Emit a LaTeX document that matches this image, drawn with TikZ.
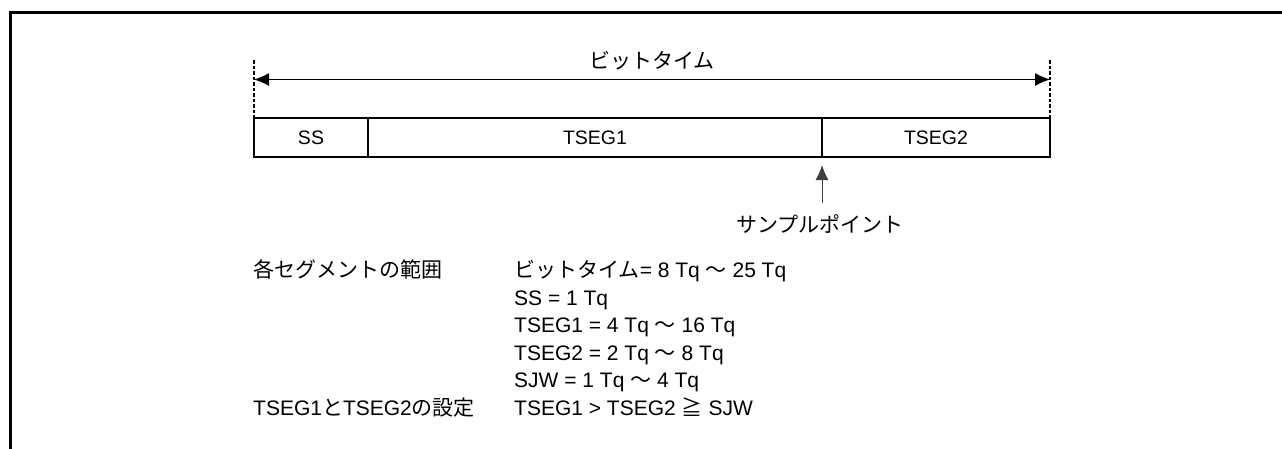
\documentclass[tikz,border=0pt]{standalone}
\usepackage{fontspec}
\setmainfont{Liberation Sans}
\newfontfamily\jp{Noto Sans CJK JP}
\usepackage{tikz}
\usetikzlibrary{shapes,arrows.meta,positioning,calc}

\begin{document}
\begin{tikzpicture}[
    x=1pt, y=-1pt,
    font=\fontsize{21}{24}\selectfont,
    cell/.style={rectangle, draw, line width=1.4pt, minimum height=39pt, inner sep=0pt, outer sep=0pt, font=\fontsize{19.5}{22}\selectfont},
    label/.style={inner sep=0pt, anchor=base west},
    line/.style={draw, line width=1pt, >={Latex[length=15pt,width=13pt]}}
]
    \useasboundingbox (0,0) rectangle (1282,448);
    \draw [line width=3pt] (10.3,450) -- (10.3,12.5) -- (1284,12.5);

    \node [cell, minimum width=114pt, anchor=north west] (ss) at (254,118) {SS};
    \node [cell, minimum width=454pt, right=0pt of ss] (tseg1) {TSEG1};
    \node [cell, minimum width=228pt, right=0pt of tseg1] (tseg2) {TSEG2};

    \coordinate (topl) at (254,60);
    \coordinate (topr) at (1050,60);
    \coordinate (arrl) at (254,79.5);
    \coordinate (arrr) at (1050,79.5);
    \draw [line width=1.3pt, dash pattern=on 3.5pt off 2pt] (topl) -- (ss.north west);
    \draw [line width=1.3pt, dash pattern=on 3.5pt off 2pt] (topr) -- (tseg2.north east);
    \path [line, <->] (arrl) -- (arrr);
    \node (bittime) at (652,61) {\jp ビットタイム};

    \node (sample) at (820,224) {\jp サンプルポイント};
    \coordinate (stail) at (tseg1.south east |- 0,203);
    \path [line, ->, draw=black!75] (stail) -- ($(tseg1.south east)+(0,8)$);

    \node [label] (rangehd) at (253,277.5) {\jp 各セグメントの範囲};
    \node [label] (range1) at (514,277.5) {{\jp ビットタイム}= 8 Tq {\jp ～} 25 Tq};
    \node [label] (range2) at (514,305) {SS = 1 Tq};
    \node [label] (range3) at (514,332.5) {TSEG1 = 4 Tq {\jp ～} 16 Tq};
    \node [label] (range4) at (514,360) {TSEG2 = 2 Tq {\jp ～} 8 Tq};
    \node [label] (range5) at (514,387.5) {SJW = 1 Tq {\jp ～} 4 Tq};
    \node [label] (sethd) at (253,415) {TSEG1{\jp と}TSEG2{\jp の設定}};
    \node [label] (set1) at (514,415) {TSEG1 > TSEG2 {\jp ≧} SJW};
\end{tikzpicture}
\end{document}
